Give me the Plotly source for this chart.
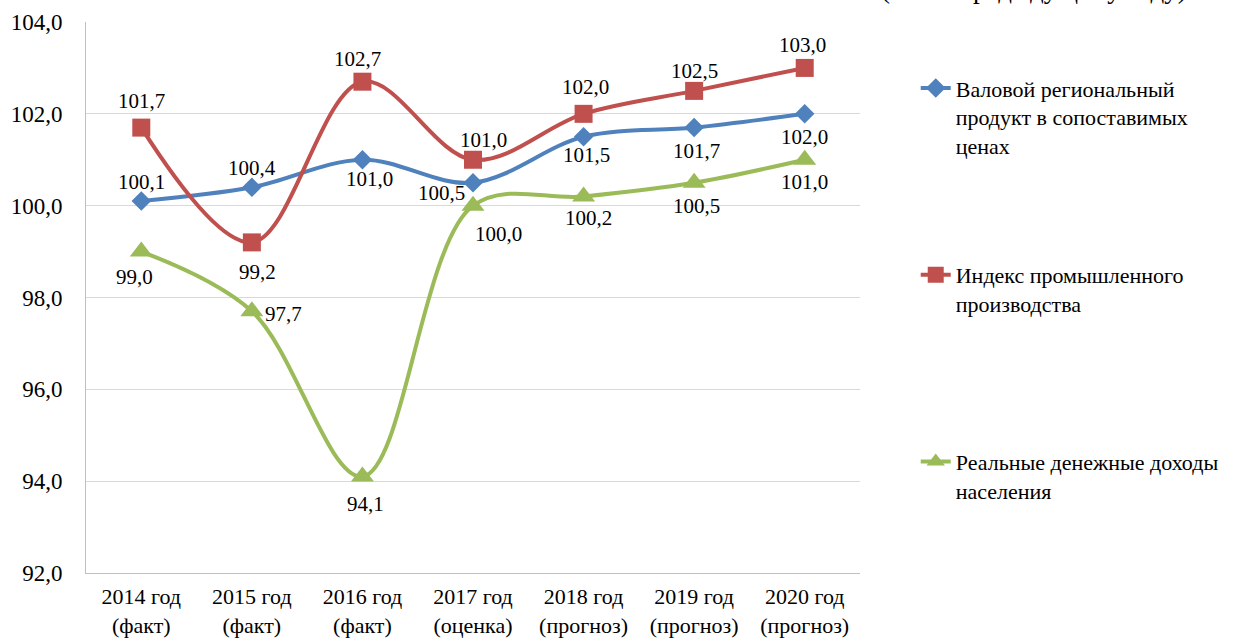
import plotly.graph_objects as go

categories = ["2014 год<br>(факт)", "2015 год<br>(факт)", "2016 год<br>(факт)", "2017 год<br>(оценка)",
              "2018 год<br>(прогноз)", "2019 год<br>(прогноз)", "2020 год<br>(прогноз)"]
grp = [100.1, 100.4, 101.0, 100.5, 101.5, 101.7, 102.0]
ipp = [101.7, 99.2, 102.7, 101.0, 102.0, 102.5, 103.0]
income = [99.0, 97.7, 94.1, 100.0, 100.2, 100.5, 101.0]

names = ["Валовой региональный<br>продукт в сопоставимых<br>ценах",
         "Индекс промышленного<br>производства<br> ",
         "Реальные денежные доходы<br>населения<br> "]
colors = ["#4F81BD", "#C0504D", "#9BBB59"]
symbols = ["diamond", "square", "triangle-up"]
sizes = [15, 18, 20]
# label offsets (pixels, dx right, dy down) per series/point
label_dx = [
    [0, 0, 7, -32, 3, 2, 0],
    [0, 6, -5, 10, 2, 0, -2],
    [-7, 32, 3, 25, 5, 2, 0],
]
label_dy = [
    [-19, -19, 19, 10, 18, 23, 23],
    [-27, 30, -23, -20, -27, -20, -23],
    [25, 3, 27, 28, 22, 23, 22],
]

FONT = "Liberation Serif, Times New Roman, serif"

fig = go.Figure()
for i, series in enumerate([grp, ipp, income]):
    fig.add_trace(go.Scatter(
        x=categories, y=series, name=names[i], legendgroup=str(i),
        mode="lines+markers", line=dict(color=colors[i], width=4, shape="spline", smoothing=1),
        marker=dict(symbol=symbols[i], size=sizes[i], color=colors[i]),
        cliponaxis=False,
    ))
    for j, v in enumerate(series):
        fig.add_annotation(x=categories[j], y=v, text=f"{v:.1f}".replace(".", ","),
                           showarrow=False, xshift=label_dx[i][j], yshift=-label_dy[i][j],
                           font=dict(family=FONT, size=21, color="black"))

fig.add_annotation(text="(в % к предыдущему году)", xref="paper", yref="paper",
                   x=1.025, y=1.0, yshift=16, xanchor="left", yanchor="bottom",
                   showarrow=False, font=dict(family=FONT, size=27, color="black"))

fig.update_layout(
    width=1241, height=642,
    margin=dict(l=86, r=381, t=22, b=69),
    paper_bgcolor="white", plot_bgcolor="white",
    separators=", ",
    font=dict(family=FONT, size=22, color="black"),
    showlegend=True,
    legend=dict(x=1.072, y=0.918, xanchor="left", yanchor="top", valign="top",
                tracegroupgap=98, font=dict(family=FONT, size=22, color="black"),
                bgcolor="rgba(0,0,0,0)"),
    xaxis=dict(type="category", range=[-0.5, 6.5], showgrid=False, showline=True,
               linecolor="#BFBFBF", linewidth=1, ticks="", tickfont=dict(size=22),
               automargin=False, ticklabelstandoff=4),
    yaxis=dict(range=[92, 104], dtick=2, tickformat=".1f", showgrid=True, gridcolor="#D9D9D9",
               showline=True, linecolor="#BFBFBF", linewidth=1, ticks="", zeroline=False,
               tickfont=dict(size=23), ticklabelstandoff=18, automargin=False),
)

fig.write_html("out.html", config={"displayModeBar": False},
               post_script="document.body.style.margin='0';document.body.style.overflow='hidden';")
